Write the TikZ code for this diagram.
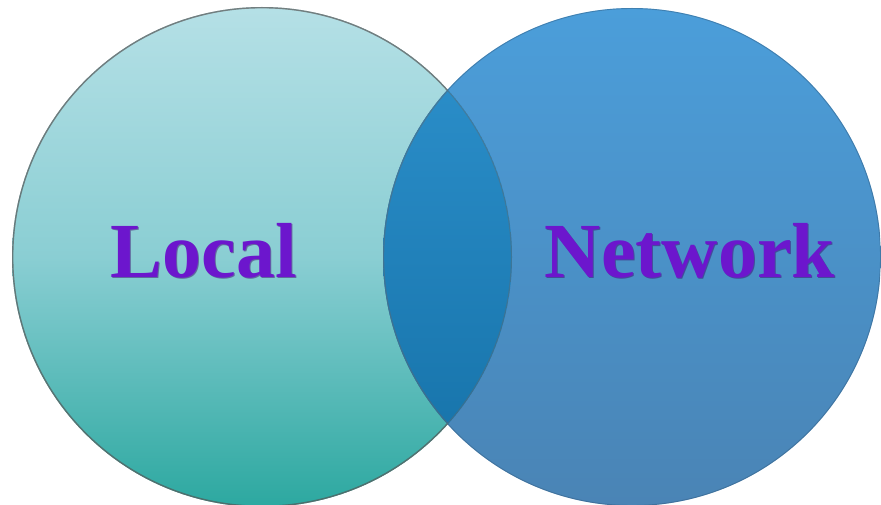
\documentclass[tikz,border=0pt]{standalone}
\usepackage{fontspec}
\newfontfamily\labelserif{Liberation Serif}
\definecolor{ltop}{RGB}{181,224,230}
\definecolor{lbot}{RGB}{44,168,160}
\definecolor{rtop}{RGB}{75,158,218}
\definecolor{rbot}{RGB}{74,132,181}
\definecolor{otop}{RGB}{46,146,206}
\definecolor{obot}{RGB}{20,112,166}
\definecolor{txtpurple}{RGB}{108,22,205}
\definecolor{txtshadow}{RGB}{60,10,110}
\tikzset{
  label text/.style={font=\labelserif\bfseries\fontsize{78}{80}\selectfont, text=txtpurple, anchor=base, inner sep=0pt},
  shadow text/.style={font=\labelserif\bfseries\fontsize{78}{80}\selectfont, text=txtshadow, anchor=base, inner sep=0pt, opacity=0.5},
}
\begin{document}
\begin{tikzpicture}[x=1pt,y=-1pt]
\useasboundingbox (0,0) rectangle (881,505);
\coordinate (L) at (262,257);
\coordinate (R) at (632,257);
% left circle
\shade[top color=ltop, bottom color=lbot, middle color={rgb,255:red,138;green,206;blue,211}] (L) circle (250);
\draw[black!70, line width=1.4pt, opacity=0.55] (L) circle (249.3);
% right circle
\shade[top color=rtop, bottom color=rbot] (R) circle (249);
\draw[rbot!70!black, line width=0.9pt, opacity=0.45] (R) circle (248.5);
% overlap
\begin{scope}
\clip (L) circle (250);
\shade[top color=otop, bottom color=obot] (R) circle (249);
\draw[black!60, line width=1.2pt, opacity=0.45] (R) circle (248.4);
\draw[black!60, line width=1.2pt, opacity=0.4] (L) circle (249.4);
\end{scope}
% labels
\node[shadow text] at (204.5,278) {Local};
\node[label text] (local) at (203.5,277) {Local};
\node[shadow text] at (691,278) {Network};
\node[label text] (network) at (690,277) {Network};
\end{tikzpicture}
\end{document}
